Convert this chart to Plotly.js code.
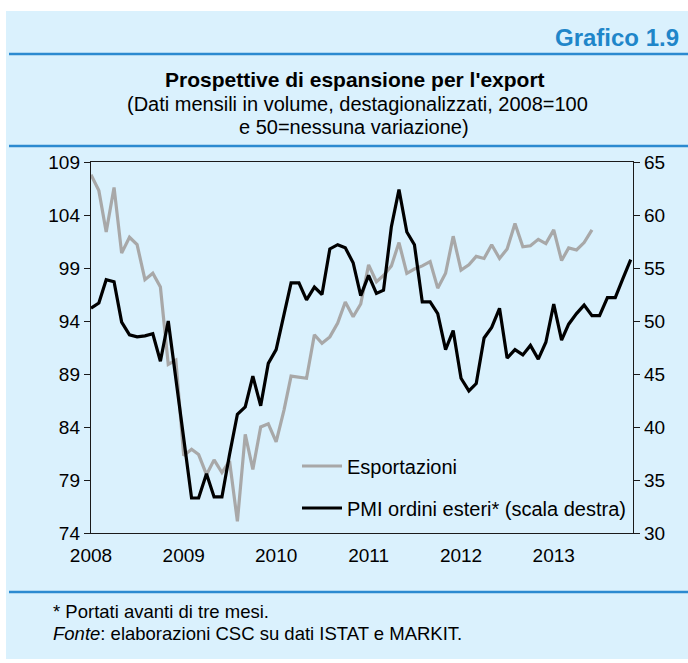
<!DOCTYPE html>
<html>
<head>
<meta charset="utf-8">
<script src="https://cdn.plot.ly/plotly-3.0.1.min.js"></script>
<style>
  html, body { margin: 0; padding: 0; background: #ffffff; }
  #chart { width: 688px; height: 663px; }
</style>
</head>
<body>
<div id="chart"></div>
<script>
// ---- Data (monthly, Jan 2008 onward) ----
const startYear = 2008;
const exportsVals = [
  107.8, 106.3, 102.4, 106.6, 100.4, 101.9, 101.2, 97.9, 98.5, 97.2, 89.9, 90.3,
  81.3, 81.9, 81.4, 79.5, 80.9, 79.7, 80.8, 75.1, 83.3, 80.0, 84.0, 84.3,
  82.6, 85.6, 88.8, 88.7, 88.6, 92.7, 91.9, 92.5, 93.8, 95.8, 94.4, 95.6,
  99.3, 97.7, 98.3, 99.2, 101.4, 98.5, 98.9, 99.2, 99.6, 97.1, 98.5, 102.0,
  98.8, 99.3, 100.1, 99.9, 101.2, 99.9, 100.8, 103.2, 101.0, 101.1, 101.7, 101.3,
  102.6, 99.7, 100.9, 100.7, 101.4, 102.6
];
const pmiVals = [
  51.2, 51.7, 53.9, 53.7, 49.9, 48.7, 48.5, 48.6, 48.8, 46.2, 50.0, 44.4,
  38.8, 33.3, 33.3, 35.6, 33.4, 33.4, 37.4, 41.2, 41.9, 44.8, 42.0, 46.0,
  47.3, 50.5, 53.6, 53.6, 52.0, 53.2, 52.5, 56.8, 57.2, 56.9, 55.5, 52.4,
  54.3, 52.6, 52.9, 58.9, 62.4, 58.4, 57.2, 51.8, 51.8, 50.7, 47.3, 49.1,
  44.6, 43.4, 44.1, 48.4, 49.4, 51.2, 46.5, 47.3, 46.8, 47.7, 46.4, 48.0,
  51.6, 48.2, 49.7, 50.7, 51.5, 50.5, 50.5, 52.2, 52.2, 54.0, 55.8
];
const yearTicks = ['2008', '2009', '2010', '2011', '2012', '2013'];
const leftTicks = [74, 79, 84, 89, 94, 99, 104, 109];
const rightTicks = [30, 35, 40, 45, 50, 55, 60, 65];
const seriesNames = ['Esportazioni', 'PMI ordini esteri* (scala destra)'];

function monthDates(n) {
  const out = [];
  for (let i = 0; i < n; i++) {
    const y = startYear + Math.floor(i / 12);
    const m = (i % 12) + 1;
    out.push(y + '-' + String(m).padStart(2, '0') + '-01');
  }
  return out;
}

// ---- Layout geometry helpers (pixels -> paper) ----
const W = 688, H = 663;
const L = 91, R = 633, T = 162, B = 533;
const px = x => (x - L) / (R - L);
const py = y => (B - y) / (B - T);

const FONT = 'Liberation Sans, Arial, sans-serif';
const BLUE = '#2c8ad0';
const PANEL = '#daf1fd';
const TICKSIZE = 19;

const traces = [
  {
    x: monthDates(exportsVals.length), y: exportsVals,
    type: 'scatter', mode: 'lines', name: seriesNames[0],
    line: { color: '#a8a8a8', width: 3.2 }, yaxis: 'y', legend: 'legend'
  },
  {
    x: monthDates(pmiVals.length), y: pmiVals,
    type: 'scatter', mode: 'lines', name: seriesNames[1],
    line: { color: '#000000', width: 3.2 }, yaxis: 'y2', legend: 'legend2'
  }
];

const legendCommon = {
  xanchor: 'left', yanchor: 'middle', bgcolor: 'rgba(0,0,0,0)', borderwidth: 0,
  font: { family: FONT, size: 20, color: '#000' }, itemwidth: 40
};

const layout = {
  width: W, height: H,
  margin: { l: L, r: W - R, t: T, b: H - B, pad: 0 },
  paper_bgcolor: '#ffffff',
  plot_bgcolor: 'rgba(0,0,0,0)',
  font: { family: FONT, size: TICKSIZE, color: '#000' },
  xaxis: {
    type: 'date',
    range: ['2008-01-01', '2013-11-10'],
    tickvals: yearTicks.map(y => y + '-01-01'),
    ticktext: yearTicks,
    ticks: '', showgrid: false, zeroline: false, ticklabelstandoff: 5,
    showline: true, mirror: true, linecolor: '#1a1a1a', linewidth: 1.2,
    tickfont: { family: FONT, size: TICKSIZE, color: '#000' }
  },
  yaxis: {
    range: [74, 109], tickvals: leftTicks, ticktext: leftTicks.map(String),
    ticks: 'outside', ticklen: 6, tickcolor: '#1a1a1a', tickwidth: 1,
    showgrid: false, zeroline: false, showline: true, linecolor: '#1a1a1a', linewidth: 1.2,
    tickfont: { family: FONT, size: TICKSIZE, color: '#000' }
  },
  yaxis2: {
    range: [30, 65], tickvals: rightTicks, ticktext: rightTicks.map(String),
    overlaying: 'y', side: 'right',
    ticks: 'outside', ticklen: 6, tickcolor: '#1a1a1a', tickwidth: 1,
    showgrid: false, zeroline: false, showline: true, linecolor: '#1a1a1a', linewidth: 1.2,
    tickfont: { family: FONT, size: TICKSIZE, color: '#000' }
  },
  showlegend: true,
  legend: Object.assign({}, legendCommon, { x: px(297), y: py(466) }),
  legend2: Object.assign({}, legendCommon, { x: px(297), y: py(508) }),
  shapes: [
    { type: 'rect', xref: 'paper', yref: 'paper', layer: 'below',
      x0: px(6), x1: px(688), y0: py(659), y1: py(11),
      fillcolor: PANEL, line: { width: 0 } },
    { type: 'line', xref: 'paper', yref: 'paper', x0: px(9), x1: px(688), y0: py(54), y1: py(54),
      line: { color: BLUE, width: 2.5 } },
    { type: 'line', xref: 'paper', yref: 'paper', x0: px(9), x1: px(688), y0: py(146), y1: py(146),
      line: { color: BLUE, width: 2.5 } },
    { type: 'line', xref: 'paper', yref: 'paper', x0: px(9), x1: px(688), y0: py(592), y1: py(592),
      line: { color: BLUE, width: 2.5 } }
  ],
  annotations: [
    { text: '<b>Grafico 1.9</b>', xref: 'paper', yref: 'paper', x: px(681), y: py(38),
      xanchor: 'right', yanchor: 'middle', showarrow: false,
      font: { family: FONT, size: 24, color: '#1f86c9' } },
    { text: "<b>Prospettive di espansione per l'export</b>", xref: 'paper', yref: 'paper',
      x: px(355), y: py(79), xanchor: 'center', yanchor: 'middle', showarrow: false,
      font: { family: FONT, size: 21, color: '#000' } },
    { text: '(Dati mensili in volume, destagionalizzati, 2008=100', xref: 'paper', yref: 'paper',
      x: px(357), y: py(104), xanchor: 'center', yanchor: 'middle', showarrow: false,
      font: { family: FONT, size: 20, color: '#000' } },
    { text: 'e 50=nessuna variazione)', xref: 'paper', yref: 'paper',
      x: px(354), y: py(127), xanchor: 'center', yanchor: 'middle', showarrow: false,
      font: { family: FONT, size: 20, color: '#000' } },
    { text: '* Portati avanti di tre mesi.', xref: 'paper', yref: 'paper',
      x: px(51), y: py(611), xanchor: 'left', yanchor: 'middle', showarrow: false,
      font: { family: FONT, size: 18.5, color: '#000' } },
    { text: '<i>Fonte</i>: elaborazioni CSC su dati ISTAT e MARKIT.', xref: 'paper', yref: 'paper',
      x: px(51), y: py(633), xanchor: 'left', yanchor: 'middle', showarrow: false,
      font: { family: FONT, size: 18.5, color: '#000' } }
  ]
};

Plotly.newPlot('chart', traces, layout, { displayModeBar: false, staticPlot: true });
</script>
</body>
</html>
